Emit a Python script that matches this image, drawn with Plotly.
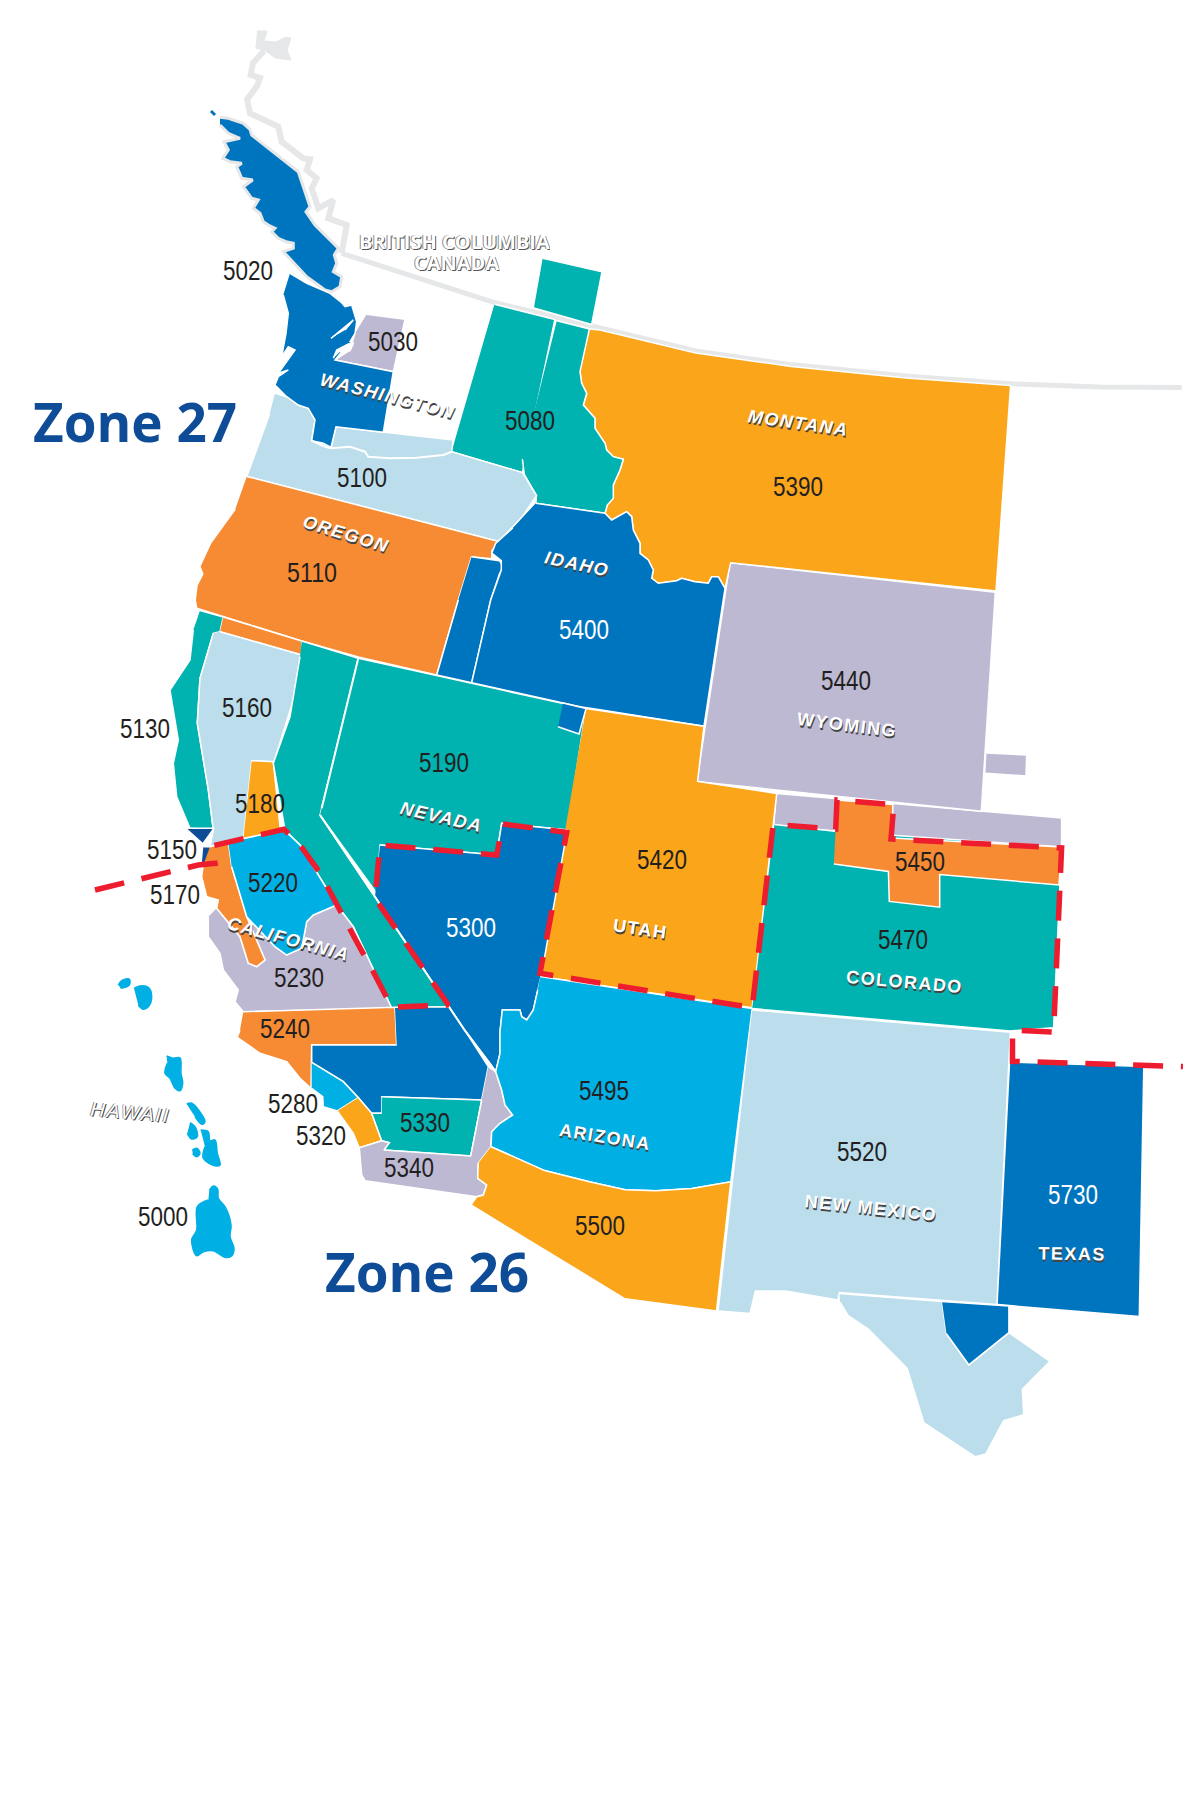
import plotly.graph_objects as go

# colours
BLUE = '#0075BF'
CYAN = '#00B0E4'
TEAL = '#00B2B0'
ORANGE = '#F68B33'
YELLOW = '#FBA51A'
PALE = '#BBDDEC'
LAV = '#BEB9D3'
NAVY = '#0F4C97'
RED = '#ED1C2E'
GREY = '#E6E7E8'

# outlines, in picture pixels
bc_blob = [(257,31),(267,31),(264,41),(276,42),(285,37.5),(291,38),(287,50),(291,60),(275.5,58),(264,50),(255.5,48)]
bc_coast = [(264,51),(253,63),(250.7,75),(260,78),(257,86),(247,99.5),(250,113.3),(278.3,126.7),(281.7,141.7),(303.3,158.3),(310,159.3),(306.7,170),(316.7,178.3),(311.7,188.3),(318.3,208.3),(333.3,200),(328.3,218.3),(346.7,225),(341.7,253.3)]
border_line = [(341.7,253.3),(493.7,302.3),(589.4,325.3),(600,328),(695.7,351),(791,364.6),(906,376),(1011,383.7),(1100,387),(1181.7,387.5)]
island_tip = [(211,111),(215,115)]

vancouver = [(220,117.3),(228.3,118.3),(243.3,123.3),(250,129.3),(251.7,135),(276.7,155),(298.3,171.7),(310,206.7),(306,211.7),(315,225),(330,240),(338.3,248.3),(334.3,255),(336.7,263.3),(333.3,271.7),(341.7,276.7),(340,286.7),(331.7,291.7),(325,290),(306.7,276.7),(283.3,251.7),(293.3,248.3),(293.3,243.3),(286,241.7),(278.3,238.3),(271.7,231.7),(275,228.3),(268.3,225),(263.3,221.7),(260,213.3),(253.3,208.3),(258.3,200),(251.7,198.3),(243.3,186.7),(252.7,180),(241.7,178.3),(236.7,166.7),(241.7,163.3),(230,161.7),(222.7,158.3),(228.3,150),(224,141.7),(240,138.3),(228.3,133.3),(220,125)]
wa_west = [(290,273.3),(306.7,283.3),(330,293.3),(341.7,302.7),(345,306.7),(351.7,305),(356.7,321.7),(355,333.3),(350,341.7),(353.3,343.3),(350,350),(341.7,351.7),(335,360),(393.3,371.7),(383.3,432.3),(336,426.7),(331,447.3),(323.3,443.3),(311.7,440.7),(315,420),(308.3,408.3),(298.3,405),(286.7,396.7),(275,385),(278.3,376.7),(288.3,370),(278.3,373.3),(290,356.7),(295,350),(288.3,346.7),(281.7,356.7),(286,333.3),(288.3,313.3),(283.3,295)]
puget_inlet = [(331,338.3),(353.3,320),(345,330)]
puget_lake = [(333.3,358.3),(336.7,350),(348.3,344),(353.3,343.3),(350,350.7),(340,351.7)]
wa_5030 = [(366.7,314.3),(405,319.3),(393.3,371.7),(335,360),(350,350),(355,333.3)]
wa_5080 = [(494.4,304.2),(554.9,319.5),(522.4,472.6),(451.6,451.6)]
bc_5080 = [(542.7,258.3),(602,271.8),(591.7,324.5),(533.9,308)]
id_5080 = [(556.8,320.7),(589.4,329),(580,371.7),(581.7,383.3),(586.7,393.3),(583.3,405),(595,418.3),(595,428.3),(605,443.3),(606.7,450),(613.3,456.7),(623.3,459.3),(620,470),(613.3,485),(613.3,498.3),(607.3,505),(605,513.3),(535.8,503.2),(536.5,495.6),(524.3,474.5),(522.4,459.2)]
or_5100 = [(275,393.3),(286.7,396.7),(298.3,405),(308.3,408.3),(315,420),(311.7,440.7),(323.3,443.3),(331,447.3),(336,426.7),(383.3,432.3),(453.3,440),(451.6,451.6),(522.4,472.6),(536.5,495.6),(522.4,516.6),(498.7,541.5),(246.8,476.4),(260.2,440),(269.8,413.3)]
columbia = [(311.7,440.7),(325,446.7),(331,448.3),(350,446.7),(365,451.7),(368.3,456.7),(390,458.3),(416.7,457.7),(443.3,455),(451.7,451.7)]
or_5110 = [(246.8,476.4),(498.7,541.5),(491.8,551),(491.8,558.7),(471.5,556.8),(458.3,600),(436.7,675),(358.3,657),(301.7,641),(200,610),(196.7,608.3),(195.2,600),(197,585.5),(202.8,574),(199.8,566.4),(210.5,543.4),(235.3,509)]
or_5400 = [(471.5,556.8),(499.4,560.7),(503.2,566.4),(499.4,574),(490.7,600),(471.7,682.7),(436.7,675),(458.3,600)]
id_5400 = [(535.8,503.2),(605,513.3),(611.7,520),(626.7,511.7),(631.7,516.7),(633.3,530),(640,543.3),(640,553.3),(648.3,560),(653.3,570),(651.7,578.3),(658.3,583.3),(676.7,580.7),(681.7,578.3),(695,581.7),(708.3,583.3),(711.7,576.7),(718.3,576.7),(725,588.3),(704,726.2),(600,709.8),(580,706.7),(471.7,682.7),(490.7,600),(501.3,570.2),(501.3,560.7),(491.8,553),(495.6,543.4),(512.8,528)]
mt_5390 = [(589.4,329),(600,330),(695.7,353),(791.3,366.5),(906,378),(1010.6,385.6),(996,591),(730.7,562.7),(725,588.3),(718.3,576.7),(711.7,576.7),(708.3,583.3),(695,581.7),(681.7,578.3),(676.7,580.7),(658.3,583.3),(651.7,578.3),(653.3,570),(648.3,560),(640,553.3),(640,543.3),(633.3,530),(631.7,516.7),(626.7,511.7),(611.7,520),(605,513.3),(607.3,505),(613.3,498.3),(613.3,485),(620,470),(623.3,459.3),(613.3,456.7),(606.7,450),(605,443.3),(595,428.3),(595,418.3),(583.3,405),(586.7,393.3),(581.7,383.3),(580,371.7)]
wy_5440 = [(730.7,562.7),(995.3,592.3),(981.3,811.3),(697.6,781.7)]
wy_chip = [(986.5,753),(1026.7,754.9),(1026,776),(985.4,773.3)]
co_strip = [(776.8,793.4),(981.3,811.3),(1061.6,818),(1061.6,850),(774.5,826)]
ut_notch = [(563,703),(586,708.6),(579,734),(558,726.7)]
ut_5420 = [(586,708.6),(704,726.2),(697.6,781.3),(776.8,793.4),(752.2,1007.7),(540,976.4)]
nv_5190 = [(358.3,658.3),(580,706.7),(586,708.6),(567.3,830),(501.7,823.3),(496.7,855),(380,845),(376.7,893.3),(320,815)]
ca_strip = [(301.7,641),(358.3,658.3),(321.7,808.3),(320,815),(449,1006.7),(391.7,1008.3),(353.3,926.7),(336.7,905),(300,845),(285,830),(273.3,763.3),(290,716.7),(300,656.7)]
ca_5160 = [(220,631.7),(301.7,655),(293.3,700),(274,761.7),(251.7,760.7),(243.3,839.3),(228.3,841.7),(210,846.7),(213.3,830),(208.3,790),(197.3,723.3),(200,678.3),(213.3,633.3)]
ca_top = [(223.3,617),(301.7,641),(301.7,655),(220,631.7)]
ca_5180 = [(251.7,760.7),(273.3,761.7),(280,826.7),(284,830),(243.3,839.3)]
ca_5130 = [(200,610.5),(223.3,617),(220,631.7),(213.3,633.3),(200,678.3),(197.3,723.3),(208.3,790),(213.3,830),(190,828.3),(176.7,796.7),(173.3,763.3),(178.3,740),(170,690),(190,660),(193.3,630)]
ca_5150a = [(186.7,828.3),(214,828.3),(203.3,843.3)]
ca_5150b = [(203.3,846.7),(210,846.7),(215,863.3),(201.7,865)]
ca_5170 = [(210,846.7),(228.3,841.7),(231.7,866.7),(246.7,916.7),(265,960),(256.7,966.7),(248.3,963.3),(240,936.7),(216.7,908.3),(218.3,900),(206.7,896.7),(201.7,876.7),(203.3,865)]
ca_5220 = [(228.3,841.7),(284,830),(300,845),(336.7,905),(313.3,915),(306.7,921.7),(301.7,948.3),(286.7,955),(275,946.7),(246.7,916.7),(231.7,866.7)]
ca_5230 = [(216.7,908.3),(240,936.7),(248.3,963.3),(256.7,966.7),(265,960),(246.7,916.7),(275,946.7),(286.7,955),(301.7,948.3),(306.7,921.7),(313.3,915),(336.7,905),(353.3,926.7),(391.7,1008.3),(243.3,1011.7),(235,1001.7),(238.3,990),(223.3,970),(220,953.3),(208.3,936.7),(208.3,916.7)]
ca_5240 = [(243.3,1011.7),(395,1007.3),(396.7,1045),(311.7,1045),(311,1088.3),(300,1078.3),(286.7,1061.7),(260,1053.3),(237.3,1037.3),(240,1030)]
nv_5300 = [(380,845),(496.7,855),(501.7,823.3),(567.3,830),(541.7,973.3),(537.7,990),(533.3,1010),(526.7,1020),(521.7,1016.7),(520,1010),(502.3,1010),(500,1031.7),(500,1053.3),(495.7,1071.7),(491,1065),(465,1030.7),(449,1006.7),(375,896.7)]
ca_south = [(395,1007.3),(449,1006.7),(465,1030.7),(488.3,1066.7),(481.7,1100),(381.7,1096.7),(381.7,1113.3),(371.7,1113.3),(358.3,1097.7),(343.3,1081.7),(311.7,1062.3),(311.7,1045),(396.7,1045)]
ca_5280 = [(311.7,1062.3),(343.3,1081.7),(358.3,1097.7),(337.3,1111),(323.3,1106.7),(322.7,1096.7),(311.7,1088.3)]
ca_5320 = [(358.3,1097.7),(371.7,1113.3),(381.7,1140.7),(359.3,1147.7),(353.3,1133.3),(337.3,1111)]
ca_5330 = [(381.7,1096.7),(481.7,1100),(470.7,1156),(384,1150),(389.3,1142.7),(381.7,1140.7),(371.7,1113.3),(381.7,1113.3)]
ca_5340 = [(488.3,1066.7),(495.7,1071.7),(501.7,1090),(505,1105),(512.7,1115),(500,1123.3),(491.7,1131.7),(491,1146.7),(478.3,1163.3),(477.7,1178.3),(486.7,1185),(483.3,1195),(476.7,1196.7),(365,1180.7),(361.7,1175),(359.3,1147.7),(381.7,1140.7),(389.3,1142.7),(384,1150),(470.7,1156),(481.7,1100)]
az_5495 = [(540.2,976.4),(752.2,1008.6),(730.8,1181.8),(692,1188.5),(656,1190.7),(625,1189.8),(589.3,1181.8),(544.6,1170.6),(491,1146.7),(491.7,1131.7),(500,1123.3),(512.7,1115),(505,1105),(501.7,1090),(495.7,1071.7),(500,1053.3),(500,1031.7),(502.3,1010),(520,1010),(521.7,1016.7),(526.7,1020),(533.3,1010),(537.7,990)]
az_5500 = [(491,1146.7),(544.6,1170.6),(589.3,1181.8),(625,1189.8),(656,1190.7),(692,1188.5),(730.8,1181.8),(716.5,1311),(625,1298.8),(471,1205),(476.7,1196.7),(483.3,1195),(486.7,1185),(477.7,1178.3),(478.3,1163.3)]
co_5470 = [(774.5,824.6),(834.8,831.3),(1061.6,847),(1053.6,1027.8),(1010.3,1030.9),(752.2,1008.6)]
co_5450 = [(837,800),(892.9,804.6),(892,838),(1061.6,847),(1059,884.9),(939.7,874.6),(939.7,907.2),(889.3,901.4),(888.4,871.5),(833.9,863.9)]
nm_5520 = [(752.2,1009.9),(1010.3,1032.2),(996.9,1304.6),(839.3,1292.5),(838,1300),(785.7,1291),(755.4,1291),(750,1313.5),(718.8,1311)]
tx_pale = [(839.3,1293.4),(942,1301.4),(946.4,1333.6),(968.8,1364.8),(1008.9,1332.7),(1050,1361.3),(1022.3,1389.4),(1023.7,1414.8),(1003.6,1420.6),(985.7,1454),(975.4,1456.8),(924,1422.9),(907.1,1368.4),(868.3,1329),(848.2,1315.7),(840.2,1302.3)]
tx_5730 = [(1010.3,1062),(1143.8,1066.6),(1139.3,1316.6),(1008.9,1305.9),(997.8,1304.6)]
tx_lower = [(942,1301.4),(1008.9,1305.9),(1008.9,1332.7),(968.8,1364.8),(946.4,1333.6)]

# hawaii
hi_1 = [(118.3,985),(121.7,980.7),(129.3,979),(129.3,985),(120.7,988.3)]
hi_2 = [(134,988.3),(140,986),(148.3,987.3),(151.7,996.7),(148.3,1006.7),(143.3,1009.3),(138.3,1005)]
hi_3 = [(166.7,1056),(173.3,1058.3),(180,1057.7),(181,1073.3),(182.7,1083.3),(180,1090.7),(175,1088.3),(170,1078.3),(165,1073.3),(167.3,1063.3)]
hi_4 = [(186.7,1104),(191.7,1103.3),(205,1121.7),(201.7,1124.3),(195,1116.7)]
hi_5 = [(190,1122.7),(195,1126.7),(197.3,1136.7),(191.7,1139),(187.3,1133.3)]
hi_6 = [(200.7,1130),(208.3,1131.7),(210,1140.7),(215,1140),(217.3,1153.3),(220,1165),(215,1165.7),(203.3,1158.3),(205,1146.7)]
hi_7 = [(192.3,1150),(196.7,1148.3),(200,1153.3),(196.7,1156.7),(192.7,1154)]
hi_8 = [(209.3,1190.7),(213.3,1186),(217.7,1189.3),(218.3,1198.3),(225,1206.7),(231,1225),(230,1236.7),(234,1248.3),(231.7,1256),(225,1257.3),(213.3,1250.7),(203.3,1251.7),(196.7,1255.7),(191.7,1240),(196.7,1230),(197.3,1206.7),(208.3,1200)]
hawaii = [hi_1, hi_2, hi_3, hi_4, hi_5, hi_6, hi_7, hi_8]

nv_west_line = [(358.3,658.3),(321.7,808.3)]
nv_south_line = [(320,815),(375,896.7),(449,1006.7),(465,1030.7),(491,1065),(495.7,1071.7)]

zone_line = [(95,890),(198.3,865),(215,863.3),(211.7,846),(284,829.3),(300,845),(320,873),(336.7,905),(356.7,941.7),(373.3,971.7),(391.7,1007.3),(448.3,1005),(375,898.3),(380,845),(496.7,855),(502.7,824),(566.7,832.3),(540,973.3),(752.2,1007.7),(773.2,824.6),(835.7,829),(837,800),(893.8,804.6),(891,839),(1061.6,847.9),(1053.6,1032),(1012.5,1030),(1012.5,1061.3),(1183,1066.6)]

# number labels
num_text = ['5020','5030','5080','5100','5110','5130','5150','5160','5170','5180','5190','5220','5230','5240','5280','5300','5320','5330','5340','5390','5400','5420','5440','5450','5470','5495','5500','5520','5730','5000']
num_x = [248,393,530,361.6,311.9,145,171.7,246.7,175,260,444.3,273.3,299.3,285,293.3,470.7,320.7,425,409.3,797.5,583.7,661.6,846,919.6,903,604,600.4,862,1072.8,162.7]
num_y = [271,341.7,421,477.6,572.9,729.3,850,707.7,895,804.3,763.3,883.3,978.3,1029.3,1104.3,928.3,1136,1123.3,1167.7,487,629.5,860.4,681,861.7,939.8,1090.7,1226.4,1151.9,1195.2,1216.7]
num_white = ['5300','5400','5730']

# state labels
state_text = ['WASHINGTON','OREGON','IDAHO','MONTANA','WYOMING','NEVADA','CALIFORNIA','UTAH','COLORADO','ARIZONA','NEW MEXICO','TEXAS']
state_x = [388.4,346.3,577,798.2,846.8,441,288.3,640.6,904.9,604.9,871.4,1072.3]
state_y = [396,533.9,564,422.7,725.4,817.3,939.3,928.7,982.2,1137,1207.7,1254]
state_angle = [14,17,12,8,7,13,15,8,5,9,6,1]
state_upright = ['WYOMING','UTAH','COLORADO','ARIZONA','NEW MEXICO','TEXAS']

regions = [
    (co_strip, LAV), (wy_5440, LAV), (wy_chip, LAV),
    (mt_5390, YELLOW), (wa_5080, TEAL), (bc_5080, TEAL), (id_5080, TEAL),
    (or_5100, PALE), (wa_5030, LAV), (wa_west, BLUE), (or_5110, ORANGE), (or_5400, BLUE), (id_5400, BLUE),
    (ca_5130, TEAL), (ca_top, ORANGE), (ca_5160, PALE), (ca_5180, YELLOW), (ca_strip, TEAL),
    (nv_5190, TEAL), (ut_5420, YELLOW), (ut_notch, BLUE),
    (ca_5150a, NAVY), (ca_5150b, NAVY), (ca_5230, LAV), (ca_5170, ORANGE), (ca_5220, CYAN),
    (ca_5240, ORANGE), (nv_5300, BLUE), (ca_south, BLUE), (ca_5280, CYAN), (ca_5320, YELLOW), (ca_5330, TEAL), (ca_5340, LAV),
    (az_5495, CYAN), (az_5500, YELLOW), (co_5470, TEAL), (co_5450, ORANGE), (nm_5520, PALE),
    (tx_pale, PALE), (tx_5730, BLUE), (tx_lower, BLUE),
    (puget_inlet, 'white'), (puget_lake, 'white'),
]

def xs(pts):
    return [p[0] for p in pts]

def ys(pts):
    return [p[1] for p in pts]

fig = go.Figure()

fig.add_trace(go.Scatter(x=xs(bc_blob), y=ys(bc_blob), fill='toself', fillcolor=GREY, mode='lines', line=dict(color=GREY, width=1)))
fig.add_trace(go.Scatter(x=xs(bc_coast), y=ys(bc_coast), mode='lines', line=dict(color=GREY, width=6)))
fig.add_trace(go.Scatter(x=xs(island_tip), y=ys(island_tip), mode='lines', line=dict(color=BLUE, width=3)))
fig.add_trace(go.Scatter(x=xs(border_line), y=ys(border_line), mode='lines', line=dict(color=GREY, width=5)))
fig.add_trace(go.Scatter(x=xs(vancouver), y=ys(vancouver), fill='toself', fillcolor=BLUE, mode='lines', line=dict(color=GREY, width=3)))

for pts, colour in regions:
    fig.add_trace(go.Scatter(x=xs(pts), y=ys(pts), fill='toself', fillcolor=colour, mode='lines',
                             line=dict(color='white', width=1.5)))

for pts in hawaii:
    fig.add_trace(go.Scatter(x=xs(pts), y=ys(pts), fill='toself', fillcolor=CYAN, mode='lines',
                             line=dict(color=CYAN, width=1.5, shape='spline')))

for pts in [columbia, nv_west_line, nv_south_line]:
    fig.add_trace(go.Scatter(x=xs(pts), y=ys(pts), mode='lines', line=dict(color='white', width=2)))
fig.add_trace(go.Scatter(x=xs(zone_line), y=ys(zone_line), mode='lines', line=dict(color=RED, width=5.5, dash='30px,17.8px')))

for t, x, y in zip(num_text, num_x, num_y):
    fig.add_annotation(x=x, y=y, text=t, showarrow=False,
                       font=dict(family='Liberation Sans', size=27,
                                 color='white' if t in num_white else '#231F20'))

for t, x, y, a in zip(state_text, state_x, state_y, state_angle):
    fig.add_annotation(x=x, y=y, text=t, showarrow=False, textangle=a,
                       font=dict(family='Liberation Sans', size=18, color='white', weight='bold',
                                 style='normal' if t in state_upright else 'italic',
                                 shadow='1px 2px 0 #444'))

# canada and hawaii labels are outlined
fig.add_annotation(x=454.3, y=241, text='BRITISH COLUMBIA', showarrow=False, height=20,
                   font=dict(family='Open Sans', size=20, color='white', weight='bold', shadow='1px 1px 0 #555, -1px 0 0 #888'))
fig.add_annotation(x=456.6, y=262, text='CANADA', showarrow=False, height=20,
                   font=dict(family='Open Sans', size=20, color='white', weight='bold', shadow='1px 1px 0 #555, -1px 0 0 #888'))
fig.add_annotation(x=130, y=1112.3, text='HAWAII', showarrow=False, textangle=5,
                   font=dict(family='Liberation Sans', size=20, color='white', style='italic', shadow='1px 1px 0 #444, -1px 0 0 #888'))

fig.add_annotation(x=135, y=421, text='Zone 27', showarrow=False,
                   font=dict(family='Open Sans', size=53, color=NAVY, weight='bold'))
fig.add_annotation(x=427.3, y=1271.5, text='Zone 26', showarrow=False,
                   font=dict(family='Open Sans', size=53, color=NAVY, weight='bold'))

fig.update_xaxes(range=[0, 1200], visible=False)
fig.update_yaxes(range=[1800, 0], visible=False)
fig.update_layout(width=1200, height=1800, margin=dict(l=0, r=0, t=0, b=0), showlegend=False,
                  paper_bgcolor='white', plot_bgcolor='white', hovermode=False)

# numbers in the original are condensed, state names letterspaced
squeeze = """
document.body.style.margin='0';
setTimeout(function(){
  document.querySelectorAll('.annotation-text').forEach(function(t){
    var s=t.textContent;
    if(/^[0-9]{4}$/.test(s)){t.setAttribute('textLength','50');t.setAttribute('lengthAdjust','spacingAndGlyphs');}
    else if(/^[A-Z ]+$/.test(s) && s.indexOf('BRITISH')<0 && s!='CANADA'){t.style.letterSpacing='1.5px';}
  });
},50);
"""
fig.write_html("out.html", post_script=squeeze, config={'displayModeBar': False})
